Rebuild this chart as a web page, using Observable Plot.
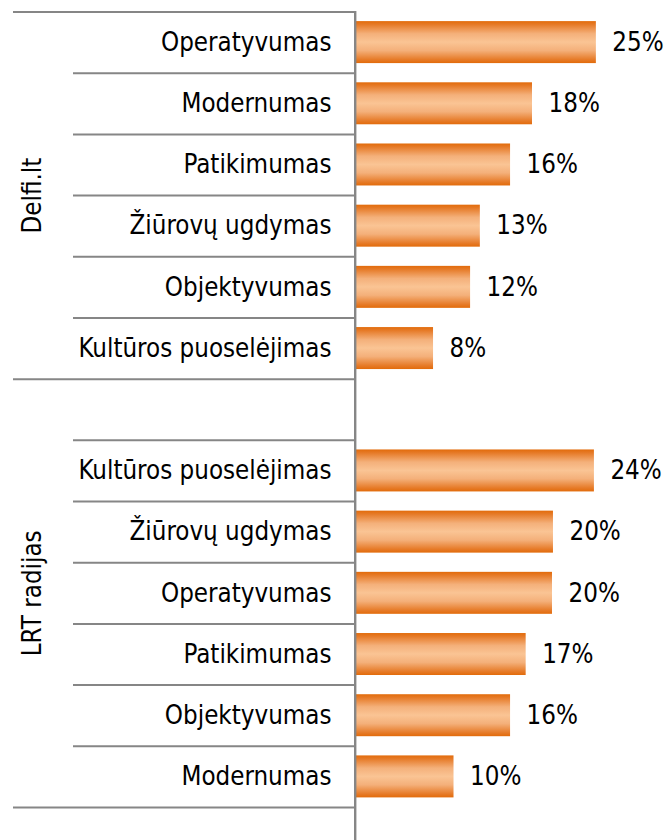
<!DOCTYPE html>
<html>
<head>
<meta charset="utf-8">
<script src="https://cdn.jsdelivr.net/npm/d3@7"></script>
<script src="https://cdn.jsdelivr.net/npm/@observablehq/plot@0.6"></script>
<style>
  html, body { margin: 0; padding: 0; background: #fff; }
  #chart svg { display: block; }
</style>
</head>
<body>
<div id="chart"></div>
<script>
// ---- data ----
const groups = ["Delfi.lt", "LRT radijas"];
const delfiCategories = ["Operatyvumas", "Modernumas", "Patikimumas", "Žiūrovų ugdymas", "Objektyvumas", "Kultūros puoselėjimas"];
const delfiValues = [24.6, 18.05, 15.8, 12.7, 11.7, 7.9];
const lrtCategories = ["Kultūros puoselėjimas", "Žiūrovų ugdymas", "Operatyvumas", "Patikimumas", "Objektyvumas", "Modernumas"];
const lrtValues = [24.4, 20.2, 20.1, 17.4, 15.8, 10.0];

// ---- font detection ----
function hasFont(name) {
  const c = document.createElement("canvas").getContext("2d");
  c.font = "40px monospace";
  const a = c.measureText("Operatyvumas").width;
  c.font = `40px '${name}', monospace`;
  return c.measureText("Operatyvumas").width !== a;
}
let fontFamily = "'Liberation Sans', Arial, sans-serif";
let fontSize = 26;
if (hasFont("DejaVu Sans Condensed")) { fontFamily = "'DejaVu Sans Condensed', sans-serif"; fontSize = 25.7; }

// ---- layout rows: Delfi rows 0..5, spacer row 6, LRT rows 7..12 ----
const rows = [
  ...delfiCategories.map((c, i) => ({group: groups[0], cat: c, value: delfiValues[i], row: i})),
  ...lrtCategories.map((c, i) => ({group: groups[1], cat: c, value: lrtValues[i], row: i + delfiCategories.length + 1}))
];
const nRows = delfiCategories.length + 1 + lrtCategories.length;
const groupSpans = [
  {group: groups[0], start: 0, end: delfiCategories.length},
  {group: groups[1], start: delfiCategories.length, end: nRows}
];
const longRules = [0, delfiCategories.length, nRows];
const shortRules = d3.range(1, nRows).filter(r => !longRules.includes(r));

const gray = "#868686";
const inset = 0.157;

const plot = Plot.plot({
  width: 669,
  height: 840,
  marginLeft: 356,
  marginRight: 0,
  marginTop: 11,
  marginBottom: 0,
  style: {fontFamily, fontSize: fontSize + "px", color: "#000", background: "#fff"},
  x: {domain: [0, 32.1], axis: null},
  y: {domain: [0, nRows], range: [11.5, 807], axis: null},
  marks: [
    Plot.rect(rows, {
      x1: () => 0, x2: "value",
      y1: d => d.row + inset, y2: d => d.row + 1 - inset,
      fill: "url(#barGrad)"
    }),
    Plot.axisY({ticks: shortRules, tickSize: 283, tickFormat: () => "", stroke: gray, strokeWidth: 2, strokeOpacity: 1}),
    Plot.axisY({ticks: longRules, tickSize: 343, tickFormat: () => "", stroke: gray, strokeWidth: 2, strokeOpacity: 1}),
    Plot.ruleX([0], {stroke: gray, strokeWidth: 2.4, dx: -1.3}),
    Plot.text(rows, {
      y: d => d.row + 0.5, frameAnchor: "left", text: "cat",
      textAnchor: "end", dx: -25, fill: "#000", fontSize
    }),
    Plot.text(rows, {
      x: "value", y: d => d.row + 0.5, text: d => Math.round(d.value) + "%",
      textAnchor: "start", dx: 16, fill: "#000", fontSize
    }),
    Plot.text(groupSpans, {
      y: d => (d.start + d.end) / 2, frameAnchor: "left", text: "group",
      textAnchor: "middle", rotate: -90, dx: -323.5, fill: "#000", fontSize
    })
  ]
});

// gradient definition for the bars
const ns = "http://www.w3.org/2000/svg";
const defs = document.createElementNS(ns, "defs");
const grad = document.createElementNS(ns, "linearGradient");
grad.setAttribute("id", "barGrad");
grad.setAttribute("x1", "0"); grad.setAttribute("y1", "0");
grad.setAttribute("x2", "0"); grad.setAttribute("y2", "1");
[[0, "#E26B0A"], [0.08, "#E67A27"], [0.3, "#F4B07A"], [0.5, "#FAC494"], [0.7, "#F4B07A"], [0.92, "#E67A27"], [1, "#E26B0A"]]
  .forEach(([o, c]) => {
    const s = document.createElementNS(ns, "stop");
    s.setAttribute("offset", o);
    s.setAttribute("stop-color", c);
    grad.appendChild(s);
  });
defs.appendChild(grad);
plot.insertBefore(defs, plot.firstChild);

document.getElementById("chart").appendChild(plot);
</script>
</body>
</html>
